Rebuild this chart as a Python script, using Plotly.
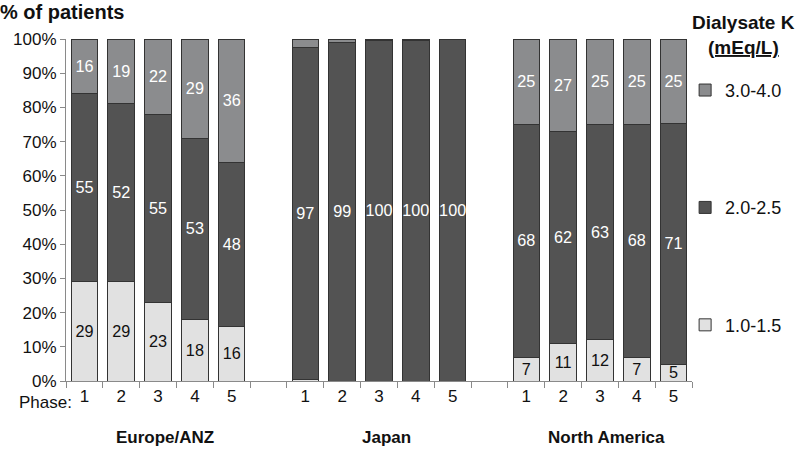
import plotly.graph_objects as go

# Data (percent of patients by dialysate K category)
regions = ["Europe/ANZ", "Japan", "North America"]
phases = ["1", "2", "3", "4", "5"]

k_low_eu = [29, 29, 23, 18, 16]
k_mid_eu = [55, 52, 55, 53, 48]
k_high_eu = [16, 19, 22, 29, 36]

k_low_jp = [0.5, 0, 0, 0, 0]
k_mid_jp = [97, 99, 100, 100, 100]
k_high_jp = [2.5, 1, 0.3, 0.5, 0.2]

k_low_na = [7, 11, 12, 7, 5]
k_mid_na = [68, 62, 63, 68, 71]
k_high_na = [25, 27, 25, 25, 25]

series_names = ["1.0-1.5", "2.0-2.5", "3.0-4.0"]
colors = ["#e1e1e1", "#535353", "#8b8c8e"]
text_colors = ["#111111", "#ffffff", "#ffffff"]
ranks = [3, 2, 1]

# category positions: 5 bars per region, one empty slot between regions
xs, labels = [], []
for g in range(3):
    for i, p in enumerate(phases):
        xs.append(g * 6 + i)
        labels.append(p)

low = k_low_eu + k_low_jp + k_low_na
mid = k_mid_eu + k_mid_jp + k_mid_na
high = k_high_eu + k_high_jp + k_high_na

font = "Liberation Sans, Arial, sans-serif"

fig = go.Figure()
for name, vals, col, tcol, rk in zip(series_names, [low, mid, high], colors, text_colors, ranks):
    fig.add_trace(go.Bar(
        x=xs, y=vals, name=name, legendgroup=name, legendrank=rk,
        marker=dict(color=col, line=dict(color="#333333", width=1)),
        text=[f"{v:.0f}" if v >= 3 else "" for v in vals],
        textposition="inside", insidetextanchor="middle", textangle=0,
        textfont=dict(color=tcol, size=19, family=font),
        hoverinfo="skip",
    ))

fig.update_layout(
    width=800, height=450,
    barmode="stack", barnorm="percent", bargap=0.28,
    uniformtext=dict(mode="show", minsize=15),
    paper_bgcolor="white", plot_bgcolor="white",
    margin=dict(l=66, r=108, t=39, b=69, autoexpand=False),
    font=dict(family=font, size=17, color="#111111"),
    legend=dict(
        x=0.989, y=0.904, xanchor="left", yanchor="top",
        traceorder="grouped", tracegroupgap=91, maxheight=440,
        font=dict(size=18, family=font),
        bgcolor="rgba(0,0,0,0)",
    ),
    xaxis=dict(
        range=[-0.5, 16.5], tickmode="array", tickvals=xs, ticktext=labels,
        ticks="", showgrid=False, showline=True, linecolor="#8a8a8a", linewidth=1,
        tickfont=dict(size=17),
        minor=dict(ticks="outside", tick0=-0.5, dtick=1, ticklen=6, tickcolor="#8a8a8a", showgrid=False),
        zeroline=False,
    ),
    yaxis=dict(
        range=[0, 100], dtick=10, ticksuffix="%", ticks="outside", ticklen=5,
        tickcolor="#8a8a8a", showgrid=False, showline=True, linecolor="#8a8a8a",
        tickfont=dict(size=17), zeroline=False,
    ),
)

# legend heading
fig.add_annotation(text="<b>Dialysate K</b>", xref="paper", yref="paper",
                   x=1.0815, y=1.0497, xanchor="center", yanchor="middle",
                   showarrow=False, font=dict(size=19))
fig.add_annotation(text="<b><u>(mEq/L)</u></b>", xref="paper", yref="paper",
                   x=1.0815, y=0.9737, xanchor="center", yanchor="middle",
                   showarrow=False, font=dict(size=19))

fig.add_annotation(text="<b>% of patients</b>", xref="paper", yref="paper",
                   x=-0.108, y=1.08, xanchor="left", yanchor="middle",
                   showarrow=False, font=dict(size=20))
fig.add_annotation(text="Phase:", xref="paper", yref="paper",
                   x=0.012, y=-0.064, xanchor="right", yanchor="middle",
                   showarrow=False, font=dict(size=17))
for g, r in enumerate(regions):
    fig.add_annotation(text=f"<b>{r}</b>", xref="x", yref="paper",
                       x=g * 6 + 2, y=-0.164, xshift=7, xanchor="center", yanchor="middle",
                       showarrow=False, font=dict(size=17))

fig.write_html("out.html", config={"displayModeBar": False},
               post_script="document.body.style.margin='0';")
